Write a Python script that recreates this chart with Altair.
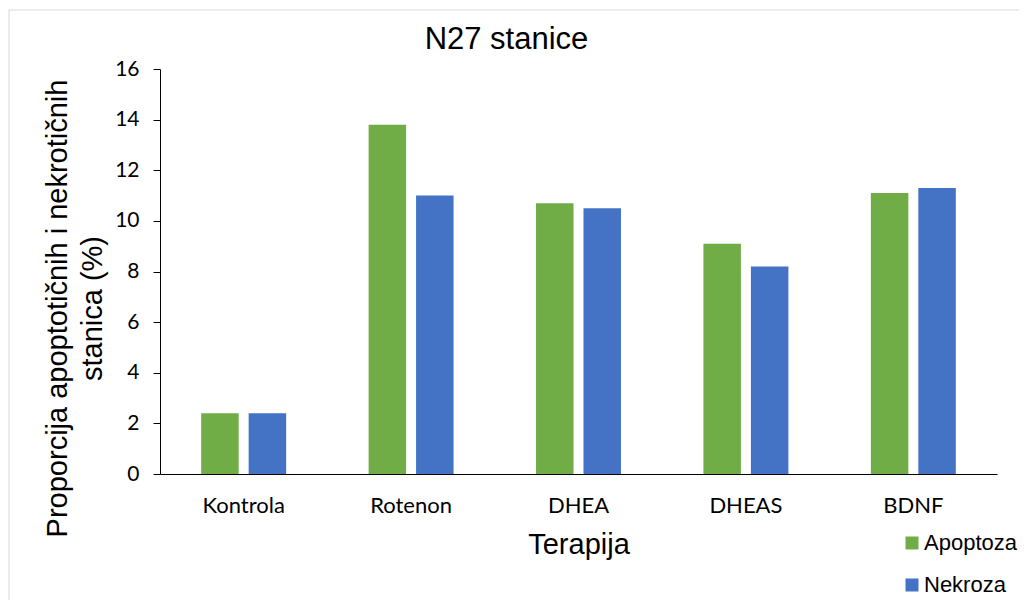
import altair as alt
import pandas as pd

categories = ["Kontrola", "Rotenon", "DHEA", "DHEAS", "BDNF"]
apoptoza = [2.4, 13.8, 10.7, 9.1, 11.1]
nekroza = [2.4, 11.0, 10.5, 8.2, 11.3]
series = ["Apoptoza", "Nekroza"]
colors = ["#70AD47", "#4472C4"]
y_ticks = [0, 2, 4, 6, 8, 10, 12, 14, 16]
y_title = ["Proporcija apoptotičnih i nekrotičnih", "stanica (%)"]

rows = []
for c, a, n in zip(categories, apoptoza, nekroza):
    rows.append({"Terapija": c, "Serija": series[0], "Vrijednost": a})
    rows.append({"Terapija": c, "Serija": series[1], "Vrijednost": n})
df = pd.DataFrame(rows)

W, H = 837, 405
ARIAL = "Liberation Sans"

bars = alt.Chart(df).mark_bar().encode(
    x=alt.X(
        "Terapija:N",
        sort=categories,
        scale=alt.Scale(paddingInner=0.4925, paddingOuter=0.246),
        axis=alt.Axis(
            title="Terapija",
            labelAngle=0,
            ticks=False,
            labelPadding=21,
            labelFont="Lato",
            labelFontSize=22,
            labelColor="#000000",
            domainColor="#000000",
            domainWidth=1,
            titleFont=ARIAL,
            titleFontSize=29,
            titleFontWeight="normal",
            titleColor="#000000",
            titleBaseline="alphabetic",
            titleY=79,
        ),
    ),
    xOffset=alt.XOffset("Serija:N", sort=series, scale=alt.Scale(paddingInner=0.21, paddingOuter=0)),
    y=alt.Y(
        "Vrijednost:Q",
        scale=alt.Scale(domain=[0, 16], nice=False),
        axis=alt.Axis(
            values=y_ticks,
            grid=False,
            tickSize=7,
            tickColor="#000000",
            domainColor="#000000",
            labelPadding=14,
            labelFont="Lato",
            labelFontSize=21,
            labelColor="#000000",
            title=y_title,
            titleFont=ARIAL,
            titleFontSize=29,
            titleFontWeight="normal",
            titleColor="#000000",
            titleAngle=270,
            titleAlign="center",
            titleBaseline="top",
            titleX=-117,
            titleY=239,
            titleLineHeight=35,
        ),
    ),
    color=alt.Color(
        "Serija:N",
        sort=series,
        scale=alt.Scale(domain=series, range=colors),
        legend=alt.Legend(
            title=None,
            orient="none",
            legendX=741,
            legendY=463,
            direction="vertical",
            symbolType="square",
            symbolSize=169,
            symbolStrokeWidth=0,
            labelFont=ARIAL,
            labelFontSize=22,
            labelColor="#000000",
            labelOffset=1,
            rowPadding=20,
            padding=0,
        ),
    ),
)

frame_data = alt.Data(values=[{"k": 0}])
border_top = alt.Chart(frame_data).mark_rule(color="#d9d9d9", strokeWidth=1).encode(
    x=alt.value(-151), x2=alt.value(W + 40), y=alt.value(-59)
)
border_left = alt.Chart(frame_data).mark_rule(color="#d9d9d9", strokeWidth=1).encode(
    x=alt.value(-151), y=alt.value(-59), y2=alt.value(H + 200)
)

chart = alt.layer(border_top, border_left, bars).properties(
    width=W,
    height=H,
    title=alt.TitleParams(
        "N27 stanice",
        font=ARIAL,
        fontSize=31,
        fontWeight="normal",
        color="#000000",
        anchor="middle",
        frame="group",
        baseline="alphabetic",
        offset=-70,
        dx=-72,
    ),
    autosize=alt.AutoSizeParams(type="none"),
    padding={"left": 152, "top": 61, "right": 22, "bottom": 126},
).configure_view(stroke="transparent")

chart.save("out.html", embed_options={"renderer": "svg", "actions": False})
